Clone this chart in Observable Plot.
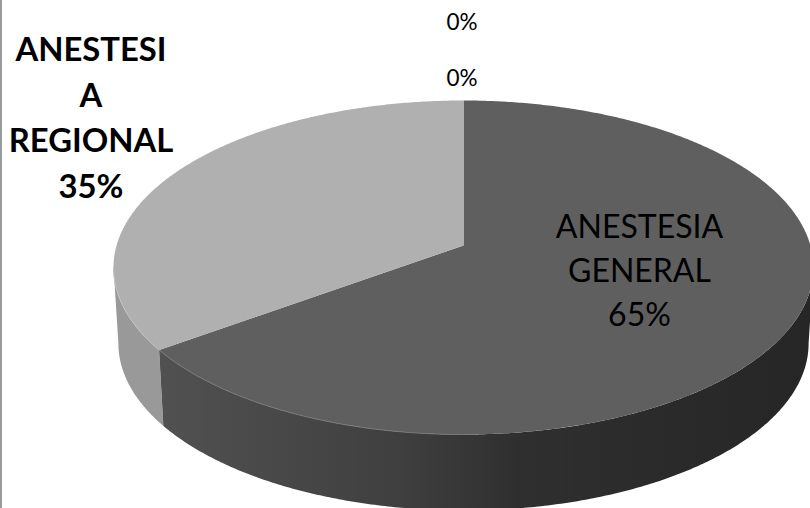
<!DOCTYPE html>
<html>
<head>
<meta charset="utf-8">
<script src="https://cdn.jsdelivr.net/npm/d3@7"></script>
<script src="https://cdn.jsdelivr.net/npm/@observablehq/plot@0.6"></script>
<style>
  html, body { margin: 0; padding: 0; background: #fff; overflow: hidden; }
  svg { display: block; }
</style>
</head>
<body>
<div id="chart"></div>
<script>
// Share of each anesthesia type, in percent, clockwise from twelve o'clock.
const shares = [65, 35, 0, 0];
const labelLines = [["ANESTESIA", "GENERAL"], ["ANESTESI", "A", "REGIONAL"]];
const topColors = ["#5f5f5f", "#b0b0b0"];

// Camera model of the tilted disc, in units of the top face's radius.
const tilt = -0.132;      // moves the disc centre towards the far edge
const depth = 0.455;      // thickness of the pie
const baseScale = 0.986;  // the base looks slightly narrower than the top

// Point on the rim at a clockwise angle (degrees), projected with perspective.
function rim(deg, level = 0) {
  const t = deg * Math.PI / 180, u = Math.sin(t), v = -Math.cos(t);
  const w = 1 + tilt * v;
  const s = level ? baseScale : 1;
  return {x: s * u * Math.sqrt(1 - tilt * tilt) / w, y: (v + tilt) / w + level * depth};
}
const apex = {x: 0, y: tilt};
const arc = (a, b, level) => d3.range(a, b + 0.25, 0.5).map(d => rim(d, level));
const wedge = (a, b) => [apex, ...arc(a, b, 0), apex];
const wall = (a, b) => [...arc(a, b, 0), ...arc(a, b, 1).reverse()];

const splitAngle = shares[0] * 3.6;
// Rim angles where the wall turns away from the viewer: the disc's widest points.
const silhouette = Math.acos(tilt) * 180 / Math.PI;
const side = silhouette;
const farLeft = 360 - silhouette;

const gradient = () => {
  const defs = d3.create("svg:defs");
  const g = defs.append("linearGradient").attr("id", "wallShade");
  [[0, "#515151"], [0.37, "#3f3f3f"], [0.55, "#2f2f2f"], [0.75, "#2b2b2b"], [1, "#262626"]]
    .forEach(([o, c]) => g.append("stop").attr("offset", o).attr("stop-color", c));
  return defs.node();
};

const line = (d, o) => Plot.line(d, {x: "x", y: "y", curve: "linear", ...o});
const caption = (text, x, y, o) => Plot.text([text], {
  frameAnchor: "top-left", dx: x, dy: y, textAnchor: "middle", lineAnchor: "middle",
  fontFamily: "Lato, 'Open Sans', sans-serif", fill: "#000", ...o
});

const chart = Plot.plot({
  width: 810,
  height: 508,
  margin: 0,
  x: {axis: null, domain: [-463 / 350, 347 / 350], range: [0, 810]},
  y: {axis: null, domain: [-267 / 167, 241 / 167], range: [0, 508]},
  marks: [
    gradient,
    // Side walls first, so the top face covers their upper edges.
    line(wall(side, splitAngle), {fill: "url(#wallShade)", stroke: "none"}),
    line(wall(splitAngle, farLeft), {fill: "#999999", stroke: "none"}),
    // Top face
    line(wedge(0, splitAngle), {fill: topColors[0], stroke: "none"}),
    line(wedge(splitAngle, 360), {fill: topColors[1], stroke: "none"}),
    // Pale rim highlights along the front edge
    line(arc(180, splitAngle, 0), {stroke: "#787878", strokeWidth: 1}),
    line(arc(splitAngle, farLeft, 0), {stroke: "#c2c2c2", strokeWidth: 1}),
    // Frame edge on the left
    Plot.ruleX([-463 / 350], {stroke: "#9a9a9a", strokeWidth: 3}),
    // Labels
    caption(`${labelLines[0].join("\n")}\n${shares[0]}%`, 639, 267, {fontSize: 32, lineHeight: 1.375}),
    caption(`${labelLines[1].join("\n")}\n${shares[1]}%`, 90.5, 114.5, {fontSize: 32.8, fontWeight: 700, lineHeight: 1.39}),
    caption(`${shares[2]}%`, 461.5, 22, {fontSize: 22.5}),
    caption(`${shares[3]}%`, 461.5, 78, {fontSize: 22.5})
  ]
});
document.getElementById("chart").append(chart);
</script>
</body>
</html>
